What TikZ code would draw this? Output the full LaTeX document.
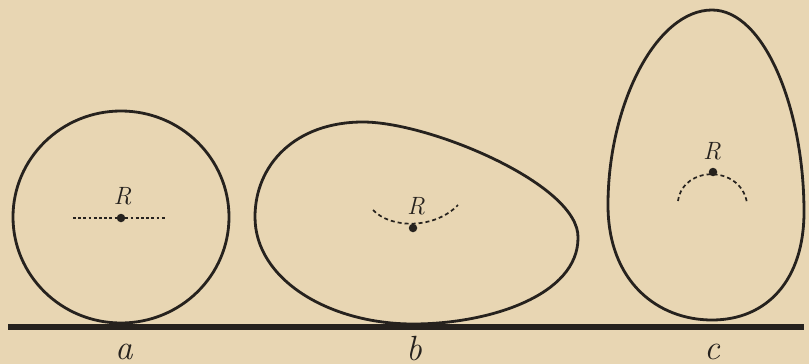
\documentclass[tikz,border=0pt]{standalone}
\usepackage{fontspec}
\usepackage{xcolor}
\definecolor{paper}{RGB}{232,214,179}
\definecolor{ink}{RGB}{38,34,30}
\begin{document}
\begin{tikzpicture}[x=1pt,y=-1pt,
  outline/.style={draw=ink,line width=2.8pt},
  ground/.style={draw=ink,line width=6pt},
  fineline/.style={draw=ink,line width=1.6pt,dash pattern=on 2.8pt off 2.4pt},
  arcline/.style={draw=ink,line width=1.7pt,dash pattern=on 4pt off 3pt},
  pt/.style={circle,fill=ink,inner sep=0pt,minimum size=8.5pt},
  rlab/.style={text=ink,font=\fontsize{25}{25}\selectfont\itshape,inner sep=0pt},
  caplab/.style={text=ink,font=\fontsize{35}{35}\selectfont\itshape,inner sep=0pt}]
\fill[paper] (0,0) rectangle (809,364);
\useasboundingbox (0,0) rectangle (809,364);
% ground
\coordinate (gl) at (8,327);
\coordinate (gr) at (804,327);
\draw[ground] (gl) -- (gr);
% a: circle
\draw[outline] (121,217) ellipse [x radius=108, y radius=106];
\node[pt] (Ca) at (121,218) {};
\coordinate (al) at (73,218);
\coordinate (ar) at (167,218);
\draw[fineline] (al) -- (Ca) -- (ar);
\node[rlab] (Ra) at (122.5,196) {R};
\node[caplab] (la) at (124,352) {a};
% b: egg lying
\draw[outline] (255,217) .. controls (255,165) and (295,122) .. (363,122)
  .. controls (430,122) and (580,185) .. (578,238)
  .. controls (578,295) and (490,324) .. (413,324)
  .. controls (330,324) and (255,280) .. cycle;
\node[pt] (Cb) at (413,228) {};
\coordinate (bl) at (373,210);
\coordinate (br) at (458,205);
\draw[arcline] (bl) .. controls (391,229) and (435,229) .. (br);
\node[rlab] (Rb) at (416,206) {R};
\node[caplab] (lb) at (414,349) {b};
% c: egg standing
\draw[outline] (712,10) .. controls (764,10) and (804,108) .. (804,212)
  .. controls (804,280) and (767,320) .. (712,320)
  .. controls (658,320) and (608,282) .. (608,205)
  .. controls (608,105) and (656,10) .. cycle;
\node[pt] (Cc) at (713,172) {};
\coordinate (cl) at (678,201);
\coordinate (cr) at (747,203);
\draw[arcline] (cl) .. controls (683,165) and (741,165) .. (cr);
\node[rlab] (Rc) at (712,151) {R};
\node[caplab] (lc) at (712,352) {c};
\end{tikzpicture}
\end{document}
